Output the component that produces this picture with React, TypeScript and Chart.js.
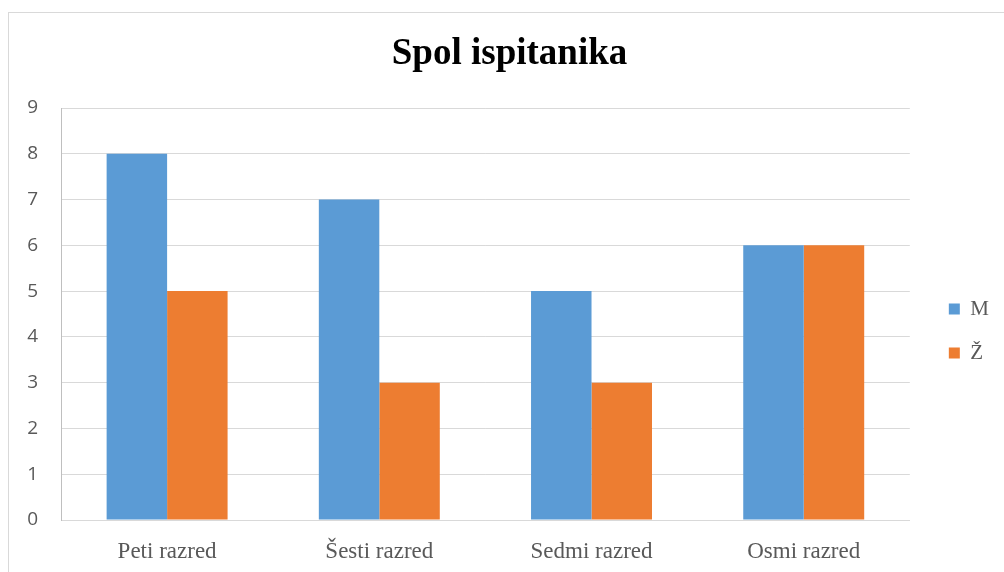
import React, { useEffect, useRef } from "react";
import { Chart, registerables } from "chart.js";

Chart.register(...registerables);

const titleText = "Spol ispitanika";
const categories = ["Peti razred", "Šesti razred", "Sedmi razred", "Osmi razred"];
const seriesLabels = ["M", "Ž"];
const maleValues = [8, 7, 5, 6];
const femaleValues = [5, 3, 3, 6];
const yMin = 0;
const yMax = 9;
const yStep = 1;

const W = 1004;
const H = 572;

export default function App() {
  const ref = useRef<HTMLCanvasElement | null>(null);

  useEffect(() => {
    if (!ref.current) return;
    const chart = new Chart(ref.current, {
      type: "bar",
      data: {
        labels: categories,
        datasets: [
          {
            label: seriesLabels[0],
            data: maleValues,
            backgroundColor: "#5B9BD5",
            borderWidth: 0,
            categoryPercentage: 0.57,
            barPercentage: 1.0,
          },
          {
            label: seriesLabels[1],
            data: femaleValues,
            backgroundColor: "#ED7D31",
            borderWidth: 0,
            categoryPercentage: 0.57,
            barPercentage: 1.0,
          },
        ],
      },
      options: {
        responsive: false,
        animation: false,
        devicePixelRatio: 1,
        layout: { padding: { left: 20, right: 5, top: 0, bottom: 0 } },
        plugins: {
          tooltip: { enabled: false },
          title: {
            display: true,
            text: titleText,
            color: "#000000",
            font: { family: "'Liberation Serif', 'Times New Roman', serif", size: 37, weight: "bold", lineHeight: 1.2 },
            padding: { top: 32, bottom: 31.6 },
          },
          legend: {
            display: true,
            position: "right",
            fullSize: false,
            title: {
              display: true,
              text: " ",
              font: { size: 10, lineHeight: 1 },
              padding: { top: 24, bottom: 0 },
            },
            labels: {
              boxWidth: 11,
              boxHeight: 11,
              padding: 23,
              color: "#595959",
              font: { family: "'Liberation Serif', 'Times New Roman', serif", size: 21 },
            },
          },
        },
        scales: {
          x: {
            grid: { display: false, drawTicks: false },
            border: { display: true, color: "#d9d9d9", width: 1 },
            ticks: {
              color: "#595959",
              padding: 18,
              font: { family: "'Liberation Serif', 'Times New Roman', serif", size: 23 },
            },
            afterFit: (s: any) => {
              s.height = 52;
            },
          },
          y: {
            min: yMin,
            max: yMax,
            ticks: {
              stepSize: yStep,
              color: "#595959",
              padding: 23,
              font: { family: "'Open Sans', sans-serif", size: 19 },
            },
            grid: { color: "#d9d9d9", lineWidth: 1, drawTicks: false },
            border: { display: true, color: "#bfbfbf", width: 1 },
            afterFit: (s: any) => {
              s.width = 41;
            },
          },
          yR: {
            position: "right",
            display: true,
            grid: { display: false, drawTicks: false },
            ticks: { display: false },
            border: { display: false },
            afterFit: (s: any) => {
              s.width = 16;
            },
          },
        },
      },
    });
    return () => chart.destroy();
  }, []);

  return (
    <div style={{ position: "absolute", left: 0, top: 0, width: W, height: H, overflow: "hidden", background: "#ffffff" }}>
      <canvas ref={ref} width={W} height={H} style={{ position: "absolute", left: 0, top: 0, width: W, height: H }} />
      <div
        style={{
          position: "absolute",
          left: 8,
          top: 12,
          width: W - 8,
          height: H - 12,
          boxSizing: "border-box",
          borderTop: "1px solid #d9d9d9",
          borderLeft: "1px solid #d9d9d9",
          pointerEvents: "none",
        }}
      />
    </div>
  );
}
